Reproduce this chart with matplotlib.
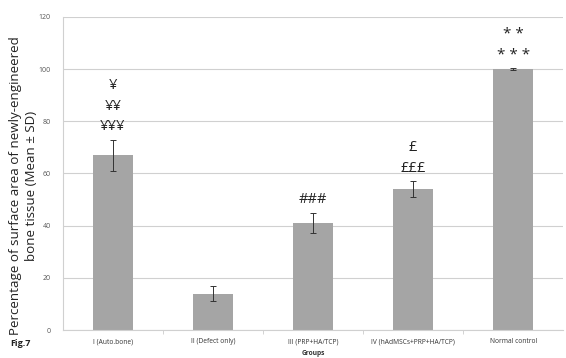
import matplotlib
matplotlib.use("Agg")
import matplotlib.pyplot as plt

groups = ["I (Auto.bone)", "II (Defect only)", "III (PRP+HA/TCP)",
          "IV (hAdMSCs+PRP+HA/TCP)", "Normal control"]
means = [67, 14, 41, 54, 100]
sds = [6, 3, 4, 3, 0.3]
# significance markers per group, listed bottom-to-top
markers = [["¥¥¥", "¥¥", "¥"], [], ["###"], ["£££", "£"], ["* * *", "* *"]]
yticks = [0, 20, 40, 60, 80, 100, 120]

plt.rcParams["font.family"] = ["Open Sans", "DejaVu Sans"]

fig = plt.figure(figsize=(5.66, 3.58), dpi=100)
ax = fig.add_axes([0.111, 0.078, 0.884, 0.875])

x = list(range(len(groups)))
ax.bar(x, means, width=0.4, color="#a5a5a5", zorder=2)
ax.errorbar(x, means, yerr=sds, fmt="none", ecolor="#333333",
            elinewidth=0.7, capsize=2, capthick=0.7, zorder=3)

step = 7.8
for xi, m, s, labs in zip(x, means, sds, markers):
    base = m + s + 5
    for k, lab in enumerate(labs):
        star = lab.startswith("*")
        ax.text(xi, base + k * step, lab,
                ha="center", va="center",
                fontsize=11 if star else 10.5, color="#222222", zorder=4)

ax.set_xlim(-0.5, len(groups) - 0.5)
ax.set_ylim(0, 120)
ax.set_yticks(yticks)
ax.yaxis.grid(True, color="#d0d0d0", linewidth=0.8, zorder=0)
ax.set_axisbelow(True)
ax.set_xticks(x)
ax.set_xticklabels(groups, fontsize=4.8, color="#333333")
ax.set_xticks([i + 0.5 for i in x[:-1]], minor=True)
ax.tick_params(axis="x", which="major", length=0, pad=6)
ax.tick_params(axis="x", which="minor", length=3, color="#cccccc")
ax.tick_params(axis="y", length=0, labelsize=5.0, labelcolor="#555555", pad=8.5)

for side in ["top", "right"]:
    ax.spines[side].set_visible(False)
ax.spines["left"].set_color("#d0d0d0")
ax.spines["bottom"].set_color("#d0d0d0")

ax.set_ylabel("Percentage of surface area of newly-engineered\nbone tissue (Mean ± SD)",
              fontsize=9.6, color="#222222", linespacing=1.3)
ax.yaxis.set_label_coords(-0.05, 0.46)
ax.set_xlabel("Groups", fontsize=4.8, fontweight="bold", color="#333333", labelpad=3)

fig.text(0.018, 0.034, "Fig.7", fontsize=6.5, fontweight="bold", color="#222222")

fig.savefig("out.png", dpi=100)
